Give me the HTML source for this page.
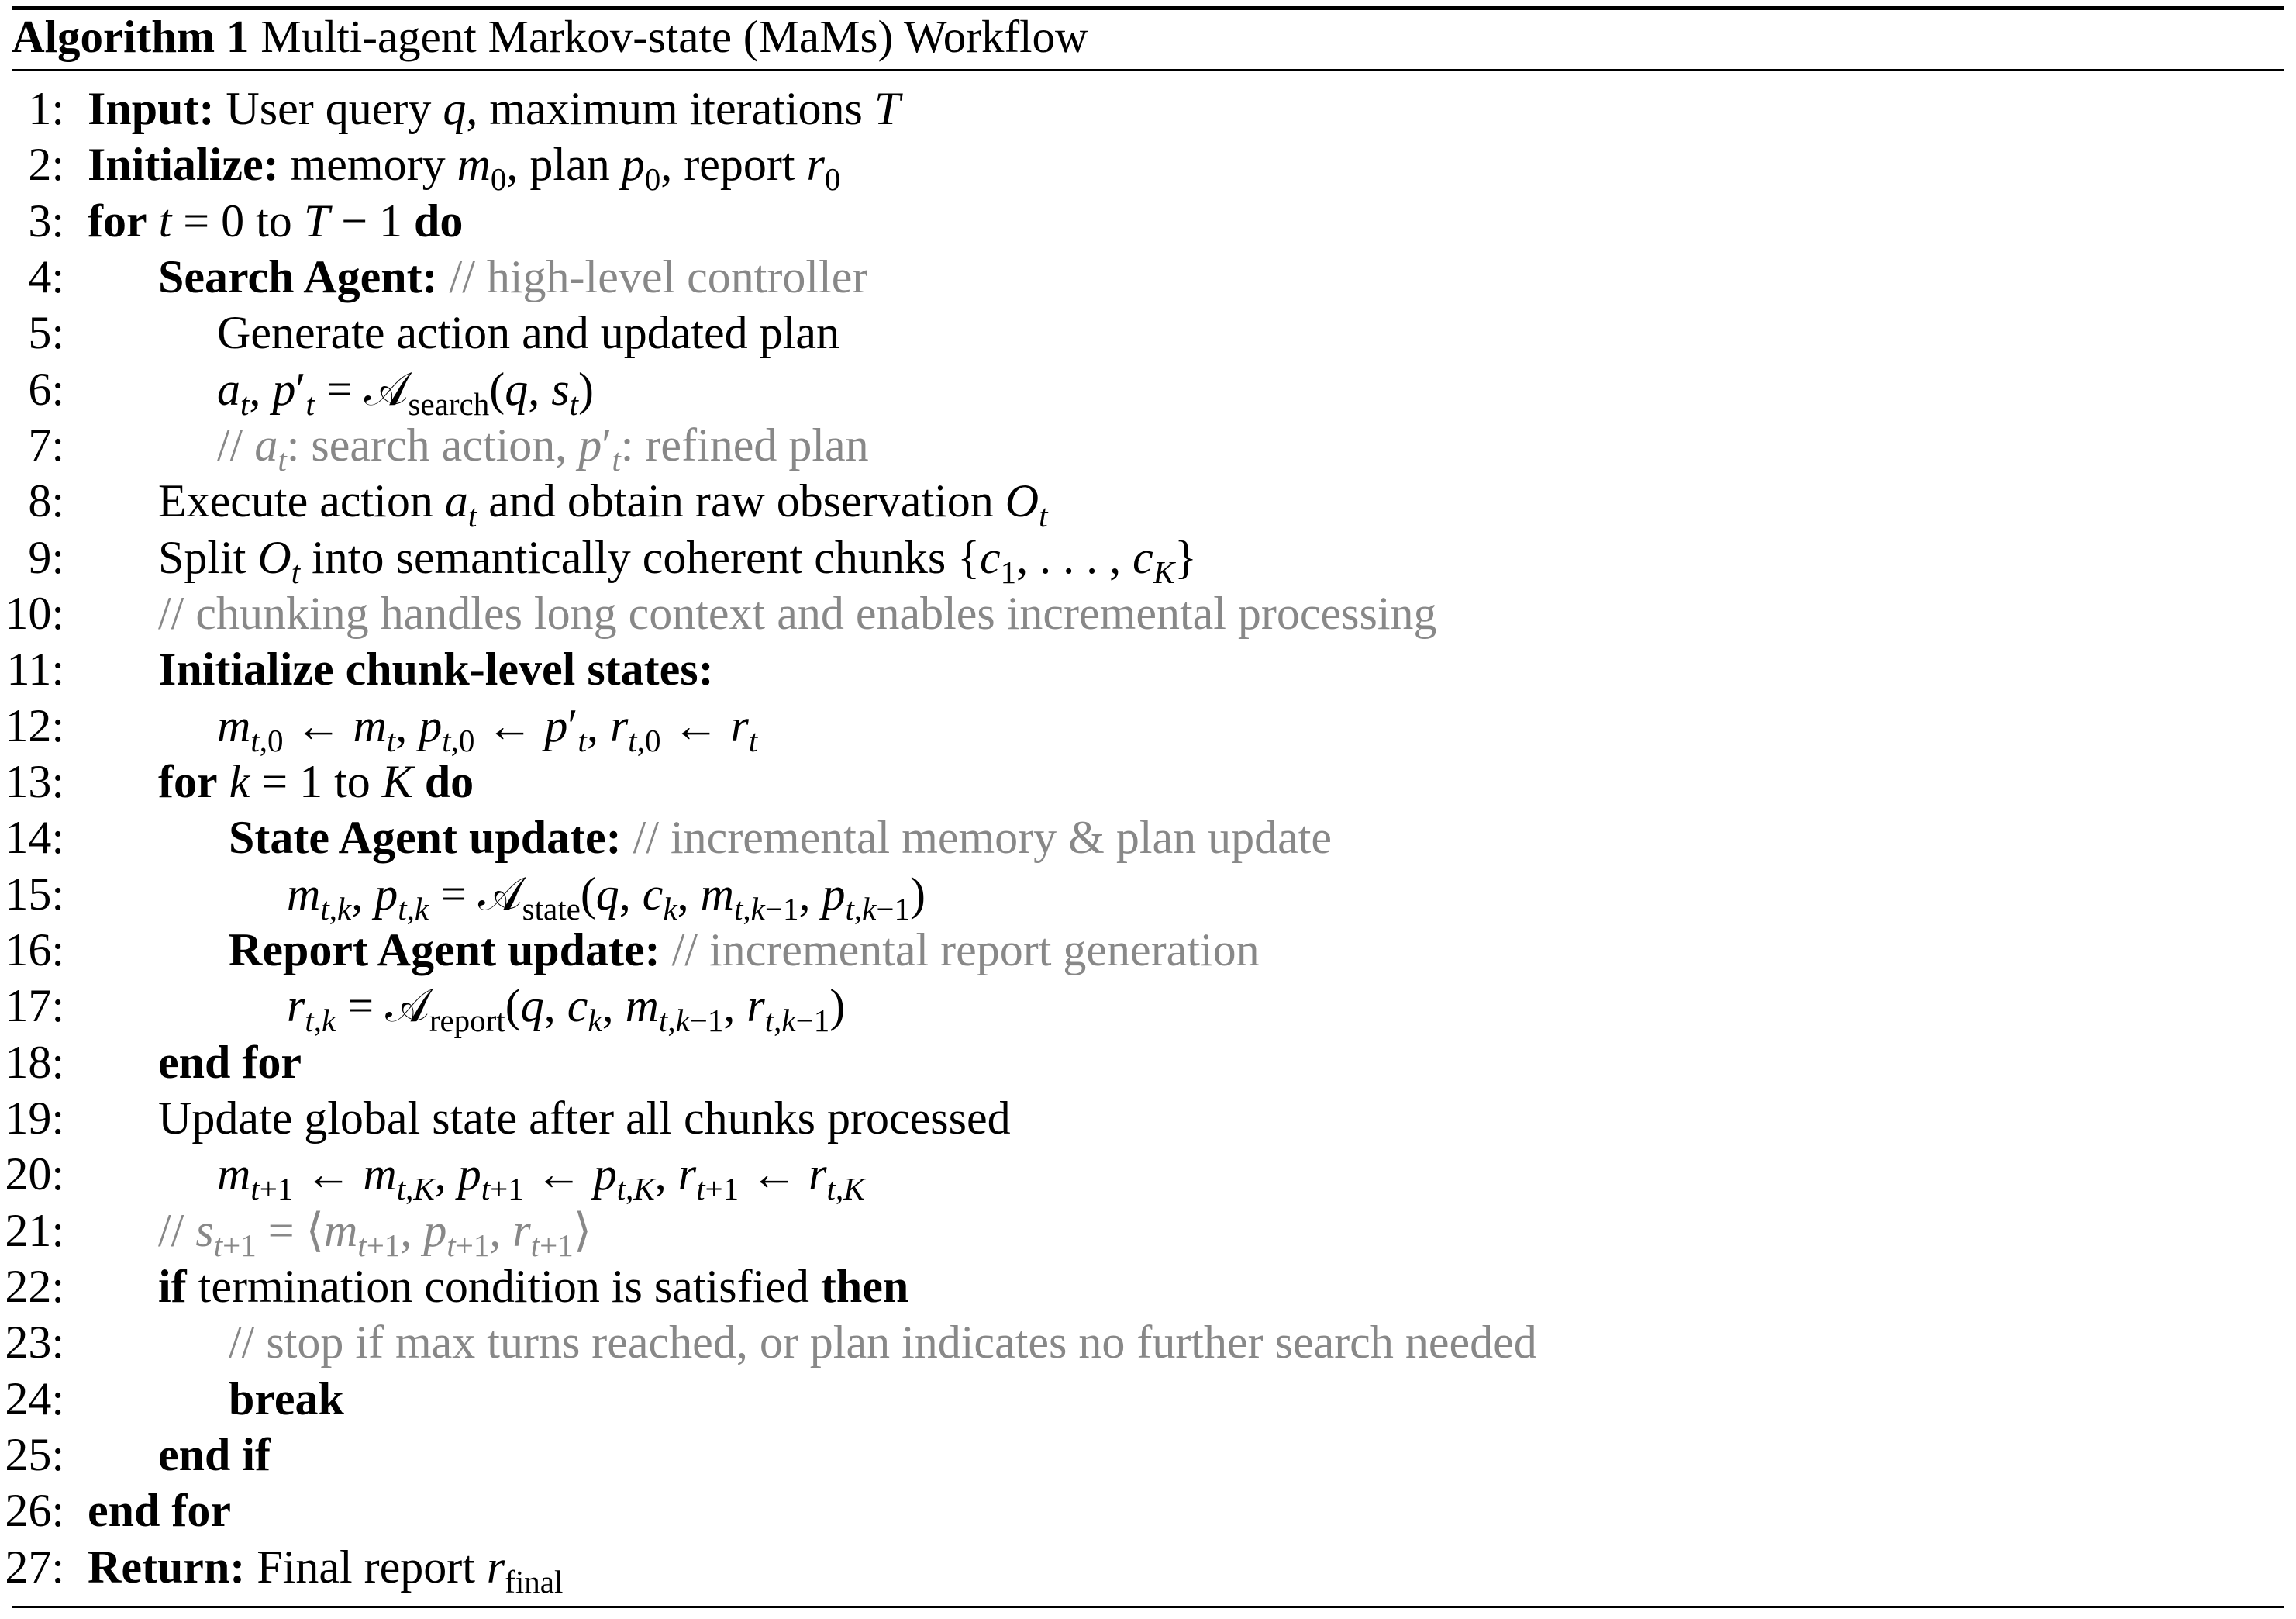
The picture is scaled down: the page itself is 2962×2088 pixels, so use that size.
<!DOCTYPE html>
<html><head><meta charset="utf-8"><style>
html,body{margin:0;padding:0;background:#fff;}
body{width:2962px;height:2088px;position:relative;overflow:hidden;font-family:"Liberation Serif",serif;color:#000;font-size:60px;}
.r{position:absolute;left:15px;width:2932px;background:#000;}
.l{position:absolute;left:0;height:72px;line-height:72px;white-space:nowrap;}
.n{position:absolute;width:83px;text-align:right;}
.t{position:absolute;}
b{font-weight:bold;}
i{font-style:italic;}
.g{color:#888;}
sub{font-size:41px;vertical-align:-13px;line-height:0;}
.m{padding:0 15px;}
</style></head><body>
<div class="r" style="top:8px;height:5px"></div>
<div class="l" style="top:11px;left:15px;font-size:59px"><b>Algorithm 1</b> Multi-agent Markov-state (MaMs) Workflow</div>
<div class="r" style="top:89px;height:3px"></div>

<div class="l" style="top:104px"><span class="n">1:</span><span class="t" style="left:113px"><b>Input:</b> User query <i>q</i>, maximum iterations <i>T</i></span></div>
<div class="l" style="top:176px"><span class="n">2:</span><span class="t" style="left:113px"><b>Initialize:</b> memory <i>m</i><sub>0</sub>, plan <i>p</i><sub>0</sub>, report <i>r</i><sub>0</sub></span></div>
<div class="l" style="top:249px"><span class="n">3:</span><span class="t" style="left:113px"><b>for</b> <i>t</i><span class="m">=</span>0 to <i>T</i><span class="m">−</span>1 <b>do</b></span></div>
<div class="l" style="top:321px"><span class="n">4:</span><span class="t" style="left:204px"><b>Search Agent:</b> <span class="g">// high-level controller</span></span></div>
<div class="l" style="top:393px"><span class="n">5:</span><span class="t" style="left:280px">Generate action and updated plan</span></div>
<div class="l" style="top:466px"><span class="n">6:</span><span class="t" style="left:280px"><i>a<sub>t</sub></i>, <i>p</i>′<sub><i>t</i></sub><span class="m">=</span>𝒜<sub>search</sub>(<i>q</i>, <i>s<sub>t</sub></i>)</span></div>
<div class="l" style="top:538px"><span class="n">7:</span><span class="t g" style="left:280px">// <i>a<sub>t</sub></i>: search action, <i>p</i>′<sub><i>t</i></sub>: refined plan</span></div>
<div class="l" style="top:610px"><span class="n">8:</span><span class="t" style="left:204px">Execute action <i>a<sub>t</sub></i> and obtain raw observation <i>O<sub>t</sub></i></span></div>
<div class="l" style="top:683px"><span class="n">9:</span><span class="t" style="left:204px">Split <i>O<sub>t</sub></i> into semantically coherent chunks {<i>c</i><sub>1</sub>, . . . , <i>c<sub>K</sub></i>}</span></div>
<div class="l" style="top:755px"><span class="n">10:</span><span class="t g" style="left:204px">// chunking handles long context and enables incremental processing</span></div>
<div class="l" style="top:827px"><span class="n">11:</span><span class="t" style="left:204px"><b>Initialize chunk-level states:</b></span></div>
<div class="l" style="top:900px"><span class="n">12:</span><span class="t" style="left:280px"><i>m</i><sub><i>t</i>,0</sub><span class="m">←</span><i>m<sub>t</sub></i>, <i>p</i><sub><i>t</i>,0</sub><span class="m">←</span><i>p</i>′<sub><i>t</i></sub>, <i>r</i><sub><i>t</i>,0</sub><span class="m">←</span><i>r<sub>t</sub></i></span></div>
<div class="l" style="top:972px"><span class="n">13:</span><span class="t" style="left:204px"><b>for</b> <i>k</i><span class="m">=</span>1 to <i>K</i> <b>do</b></span></div>
<div class="l" style="top:1044px"><span class="n">14:</span><span class="t" style="left:295px"><b>State Agent update:</b> <span class="g">// incremental memory &amp; plan update</span></span></div>
<div class="l" style="top:1117px"><span class="n">15:</span><span class="t" style="left:370px"><i>m</i><sub><i>t</i>,<i>k</i></sub>, <i>p</i><sub><i>t</i>,<i>k</i></sub><span class="m">=</span>𝒜<sub>state</sub>(<i>q</i>, <i>c<sub>k</sub></i>, <i>m</i><sub><i>t</i>,<i>k</i>−1</sub>, <i>p</i><sub><i>t</i>,<i>k</i>−1</sub>)</span></div>
<div class="l" style="top:1189px"><span class="n">16:</span><span class="t" style="left:295px"><b>Report Agent update:</b> <span class="g">// incremental report generation</span></span></div>
<div class="l" style="top:1261px"><span class="n">17:</span><span class="t" style="left:370px"><i>r</i><sub><i>t</i>,<i>k</i></sub><span class="m">=</span>𝒜<sub>report</sub>(<i>q</i>, <i>c<sub>k</sub></i>, <i>m</i><sub><i>t</i>,<i>k</i>−1</sub>, <i>r</i><sub><i>t</i>,<i>k</i>−1</sub>)</span></div>
<div class="l" style="top:1334px"><span class="n">18:</span><span class="t" style="left:204px"><b>end for</b></span></div>
<div class="l" style="top:1406px"><span class="n">19:</span><span class="t" style="left:204px">Update global state after all chunks processed</span></div>
<div class="l" style="top:1478px"><span class="n">20:</span><span class="t" style="left:280px"><i>m</i><sub><i>t</i>+1</sub><span class="m">←</span><i>m</i><sub><i>t</i>,<i>K</i></sub>, <i>p</i><sub><i>t</i>+1</sub><span class="m">←</span><i>p</i><sub><i>t</i>,<i>K</i></sub>, <i>r</i><sub><i>t</i>+1</sub><span class="m">←</span><i>r</i><sub><i>t</i>,<i>K</i></sub></span></div>
<div class="l" style="top:1551px"><span class="n">21:</span><span class="t g" style="left:204px">// <i>s</i><sub><i>t</i>+1</sub><span class="m">=</span>⟨<i>m</i><sub><i>t</i>+1</sub>, <i>p</i><sub><i>t</i>+1</sub>, <i>r</i><sub><i>t</i>+1</sub>⟩</span></div>
<div class="l" style="top:1623px"><span class="n">22:</span><span class="t" style="left:204px"><b>if</b> termination condition is satisfied <b>then</b></span></div>
<div class="l" style="top:1695px"><span class="n">23:</span><span class="t g" style="left:295px">// stop if max turns reached, or plan indicates no further search needed</span></div>
<div class="l" style="top:1768px"><span class="n">24:</span><span class="t" style="left:295px"><b>break</b></span></div>
<div class="l" style="top:1840px"><span class="n">25:</span><span class="t" style="left:204px"><b>end if</b></span></div>
<div class="l" style="top:1912px"><span class="n">26:</span><span class="t" style="left:113px"><b>end for</b></span></div>
<div class="l" style="top:1985px"><span class="n">27:</span><span class="t" style="left:113px"><b>Return:</b> Final report <i>r</i><sub>final</sub></span></div>

<div class="r" style="top:2071px;height:3px"></div>
</body></html>
